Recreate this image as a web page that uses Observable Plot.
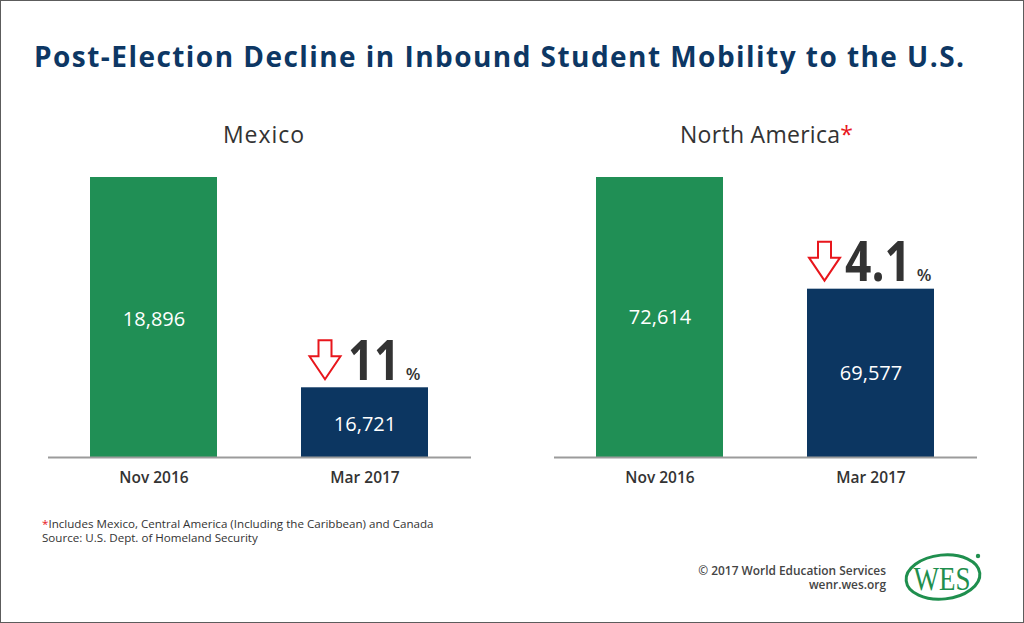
<!DOCTYPE html>
<html>
<head>
<meta charset="utf-8">
<script src="https://cdn.jsdelivr.net/npm/d3@7"></script>
<script src="https://cdn.jsdelivr.net/npm/@observablehq/plot@0.6"></script>
<style>
  html, body { margin: 0; padding: 0; background: #fff; }
  #frame { position: relative; width: 1024px; height: 623px; box-sizing: border-box; border: 1px solid #5c5c5c; background: #fff; overflow: hidden; font-family: "Open Sans", sans-serif; }
  .panel { position: absolute; top: 0; }
  .panel svg { overflow: visible; }
  #overlay { position: absolute; left: 0; top: 0; pointer-events: none; }
  [aria-label="x-axis tick label"] text { font-weight: 600; font-size: 15.5px; fill: #333; }
</style>
</head>
<body>
<div id="frame">
  <div id="mexico" class="panel" style="left:0px"></div>
  <div id="na" class="panel" style="left:506px"></div>
  <svg id="overlay" width="1024" height="623" font-family="Open Sans, sans-serif">
    <text x="498" y="66" text-anchor="middle" font-size="28" font-weight="700" fill="#0d3764" id="title" textLength="930" lengthAdjust="spacing"></text>
    <text x="262.5" y="142" text-anchor="middle" font-size="23" font-weight="500" fill="#333" id="t0" textLength="81" lengthAdjust="spacing"></text>
    <text x="765.5" y="142" text-anchor="middle" font-size="23" font-weight="500" fill="#333" id="t1" textLength="173" lengthAdjust="spacing"></text>
    <text x="41" y="527" font-size="11.6" fill="#333" id="foot1"></text>
    <text x="41" y="540.5" font-size="11.6" fill="#333" id="foot2"></text>
    <text x="885" y="573.5" text-anchor="end" font-size="11.9" font-weight="600" fill="#444" id="copy1"></text>
    <text x="885" y="588" text-anchor="end" font-size="11.9" font-weight="600" fill="#444" id="copy2"></text>
    <g id="logo">
      <ellipse cx="942" cy="576" rx="37" ry="22" fill="none" stroke="#1f8f4e" stroke-width="3" transform="rotate(-6 942 576)"></ellipse>
      <text x="941" y="589" text-anchor="middle" font-family="Liberation Serif, serif" font-size="34" fill="#1f8f4e" textLength="57" lengthAdjust="spacingAndGlyphs">WES</text>
      <circle cx="977" cy="555" r="2.2" fill="#1f8f4e"></circle>
    </g>
  </svg>
</div>
<script>
// ---- data ----
const periods = ["Nov 2016", "Mar 2017"];
const mexicoValues = [18896, 16721];
const northAmericaValues = [72614, 69577];
const declines = ["11", "4.1"];
const panelTitles = ["Mexico", "North America"];
const axisFloors = [16000, 65000];
const titleText = "Post-Election Decline in Inbound Student Mobility to the U.S.";
const footnote = "Includes Mexico, Central America (Including the Caribbean) and Canada";
const sourceText = "Source: U.S. Dept. of Homeland Security";
const copyright = ["© 2017 World Education Services", "wenr.wes.org"];

const GREEN = "#208f55", NAVY = "#0c3661", RED = "#e8161c";

// ---- text ----
document.getElementById("title").textContent = titleText;
document.getElementById("t0").textContent = panelTitles[0];
const t1 = document.getElementById("t1");
t1.textContent = panelTitles[1];
const star = document.createElementNS("http://www.w3.org/2000/svg", "tspan");
star.setAttribute("fill", RED); star.textContent = "*"; t1.appendChild(star);
const f1 = document.getElementById("foot1");
const s2 = document.createElementNS("http://www.w3.org/2000/svg", "tspan");
s2.setAttribute("fill", RED); s2.textContent = "*"; f1.appendChild(s2);
f1.appendChild(document.createTextNode(footnote));
document.getElementById("foot2").textContent = sourceText;
document.getElementById("copy1").textContent = copyright[0];
document.getElementById("copy2").textContent = copyright[1];

function panel(values, floor, decline, o) {
  const data = periods.map((p, i) => ({period: p, value: values[i]}));
  const last = data[data.length - 1];
  const arrow = (index, scales) => {
    const cx = scales.x(last.period) + o.arrowDx;
    const tip = scales.y(last.value) - 8;
    const g = d3.create("svg:g");
    g.append("path")
      .attr("d", `M${cx},${tip} L${cx-15.5},${tip-23} L${cx-6.5},${tip-23} L${cx-6.5},${tip-39} L${cx+6.5},${tip-39} L${cx+6.5},${tip-23} L${cx+15.5},${tip-23} Z`)
      .attr("fill", "white").attr("stroke", RED).attr("stroke-width", 2).attr("stroke-linejoin", "miter");
    return g.node();
  };
  const svg = Plot.plot({
    width: 512, height: 500,
    marginLeft: 47, marginRight: 42, marginTop: 176, marginBottom: 44,
    style: {fontFamily: "Open Sans, sans-serif", color: "#333", background: "transparent", overflow: "visible"},
    x: {domain: periods, range: [89, 427], paddingInner: 0.4, paddingOuter: 0, tickSize: 0, tickPadding: 14, label: null},
    y: {domain: [floor, d3.max(values)], axis: null},
    color: {domain: periods, range: [GREEN, NAVY]},
    marks: [
      Plot.barY(data, {x: "period", y1: floor, y2: "value", fill: "period"}),
      Plot.ruleY([floor], {stroke: "#9b9b9b", strokeWidth: 2}),
      Plot.text(data, {x: "period", y: d => (floor + d.value) / 2, text: d => d3.format(",")(d.value), fill: "white", fontSize: 20, fontWeight: 500, dy: o.valDy}),
      Plot.text([last], {x: "period", y: "value", text: () => decline, textAnchor: "start", lineAnchor: "bottom", dy: -8, dx: o.numDx, fontSize: 55, fontWeight: 700, fill: "#333"}),
      Plot.text([last], {x: "period", y: "value", text: () => "%", lineAnchor: "bottom", dy: -8, dx: o.pctDx, fontSize: 17, fontWeight: 600, fill: "#333"}),
      arrow
    ]
  });
  // fit the big decline figure to its width in the reference
  svg.querySelectorAll("text").forEach(t => {
    if (t.textContent.trim() === decline) {
      t.setAttribute("textLength", o.numW);
      t.setAttribute("lengthAdjust", "spacingAndGlyphs");
    }
  });
  return svg;
}

document.getElementById("mexico").appendChild(panel(mexicoValues, axisFloors[0], declines[0], {arrowDx: 24, numDx: -17, numW: 52, pctDx: 48, valDy: 2}));
document.getElementById("na").appendChild(panel(northAmericaValues, axisFloors[1], declines[1], {arrowDx: 17.5, numDx: -26, numW: 66, pctDx: 53, valDy: 0}));
</script>
</body>
</html>
